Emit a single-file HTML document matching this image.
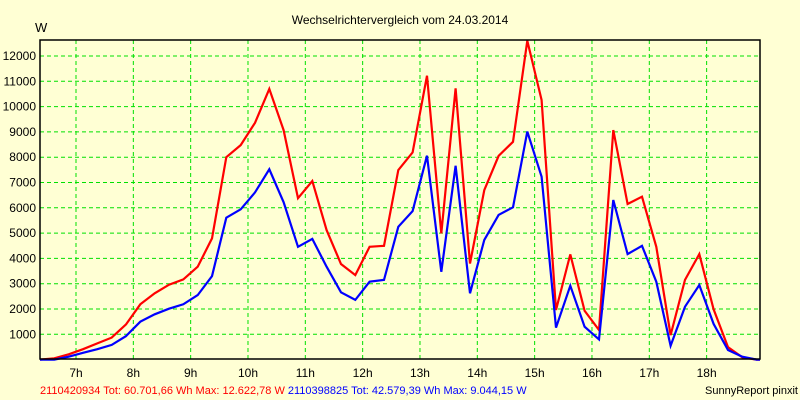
<!DOCTYPE html>
<html><head><meta charset="utf-8"><style>
body{margin:0;background:#ffffd4;}
svg{display:block;font-family:"Liberation Sans",Arial,sans-serif;}
</style></head><body>
<svg id="c" width="800" height="400">
<rect width="800" height="400" fill="#ffffd4"/>
<text x="400" y="24" text-anchor="middle" font-size="12" fill="#000">Wechselrichtervergleich vom 24.03.2014</text>
<text x="35" y="32" font-size="13" fill="#000">W</text>
<g id="grid"></g><g id="series"></g>
<rect x="40" y="40" width="720" height="319" fill="none" stroke="#000" stroke-width="1.5"/>
<text x="40" y="394" font-size="11" fill="#f00">2110420934 Tot: 60.701,66 Wh Max: 12.622,78 W <tspan fill="#00f">2110398825 Tot: 42.579,39 Wh Max: 9.044,15 W</tspan></text>
<text x="798" y="394" text-anchor="end" font-size="11" fill="#000">SunnyReport pinxit</text>
</svg>
<script>
const hours=[7,8,9,10,11,12,13,14,15,16,17,18];
const yTicks=[1000,2000,3000,4000,5000,6000,7000,8000,9000,10000,11000,12000];
const startHour=6.372, stepHour=0.25;
const red=[0,50,210,410,640,870,1390,2185,2620,2960,3170,3670,4790,8000,8480,9360,10700,9070,6380,7060,5120,3780,3340,4460,4500,7490,8190,11220,4990,10720,3800,6700,8050,8610,12600,10260,1960,4160,1930,1170,9070,6150,6440,4460,970,3150,4170,1990,490,90,0];
const blue=[0,0,115,270,410,580,930,1500,1790,2010,2185,2550,3300,5610,5940,6610,7520,6220,4460,4770,3670,2660,2360,3080,3150,5250,5870,8060,3470,7660,2620,4730,5720,6020,9010,7230,1260,2920,1300,800,6310,4170,4500,3080,550,2090,2950,1410,380,115,0];
const NS="http://www.w3.org/2000/svg";
const X=h=>76+(h-7)*57.33;
const Y=v=>359.6-v*0.0253;
const grid=document.getElementById('grid'),ser=document.getElementById('series');
function mk(tag,attrs,parent){const e=document.createElementNS(NS,tag);for(const k in attrs)e.setAttribute(k,attrs[k]);parent.appendChild(e);return e;}
yTicks.forEach(v=>{
  const l=mk('line',{x1:40,x2:760,y1:Y(v),y2:Y(v),stroke:'#00e000','stroke-dasharray':'4,3'},grid);
  
  
  const t=mk('text',{x:36,y:Y(v)+4,'text-anchor':'end','font-size':'12',fill:'#000'},grid);
  t.textContent=v;
  
  
});
hours.forEach(h=>{
  const l=mk('line',{x1:X(h),x2:X(h),y1:40,y2:359,stroke:'#00e000','stroke-dasharray':'4,3'},grid);
  
  
  const t=mk('text',{x:X(h),y:377,'text-anchor':'middle','font-size':'12',fill:'#000'},grid);
  t.textContent=h+'h';
  
  
});
function line(data,color,name){
  const pts=data.map((v,i)=>X(startHour+i*stepHour).toFixed(1)+','+Y(v).toFixed(1));
  pts.push('760,'+Y(0).toFixed(1));
  const p=mk('polyline',{points:pts.join(' '),fill:'none',stroke:color,'stroke-width':'2.2','stroke-linejoin':'miter'},ser);
  
  
}
line(red,'#f00','series-2110420934');
line(blue,'#00f','series-2110398825');
</script>
</body></html>
